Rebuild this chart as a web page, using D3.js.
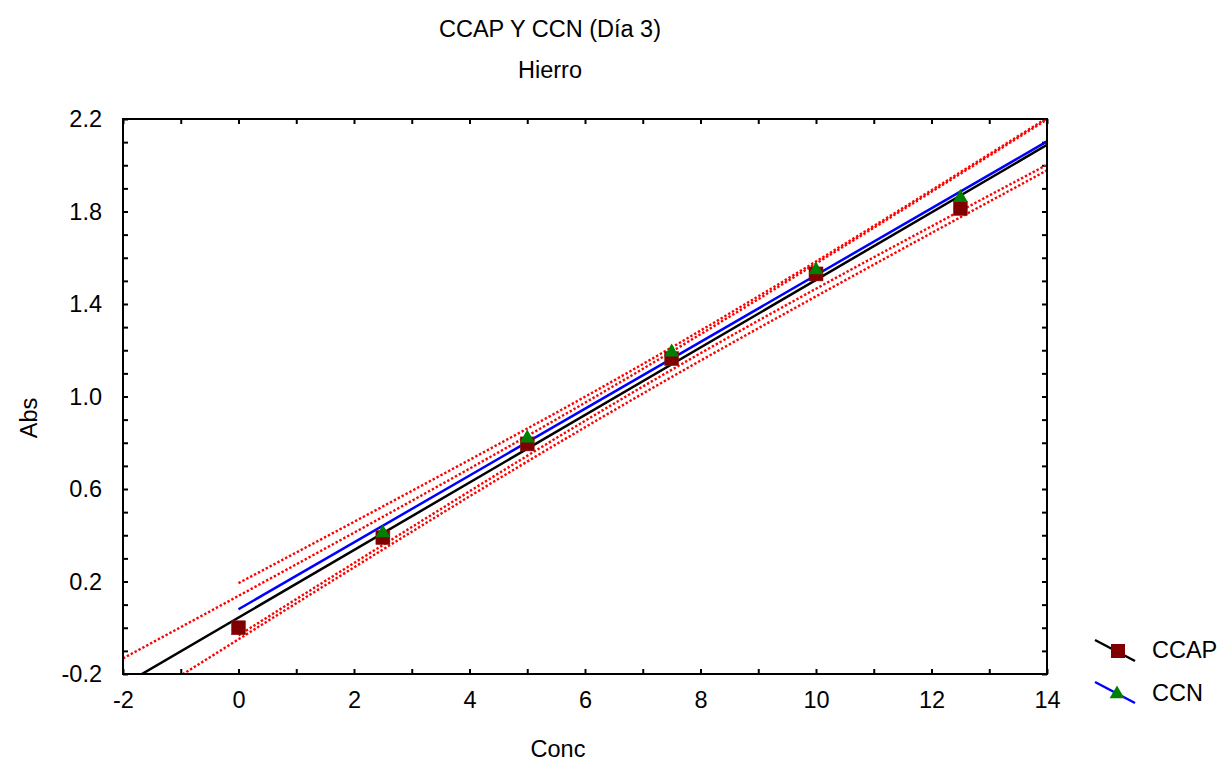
<!DOCTYPE html>
<html><head><meta charset="utf-8">
<script src="https://cdn.jsdelivr.net/npm/d3@7"></script>
<style>body{margin:0;background:#fff}text{font-family:"Liberation Sans",Arial,sans-serif;fill:#000}</style>
</head><body><svg id="c" width="1220" height="765"></svg>
<script>
// ---- data ----
const title = "CCAP Y CCN (Día 3)";
const subtitle = "Hierro";
const xTitle = "Conc", yTitle = "Abs";
const xTickLabels = [-2, 0, 2, 4, 6, 8, 10, 12, 14];
const yTickLabels = [-0.2, 0.2, 0.6, 1.0, 1.4, 1.8, 2.2];
const ccapX = [0, 2.5, 5, 7.5, 10, 12.5];
const ccapY = [0.00, 0.39, 0.795, 1.164, 1.53, 1.813];
const ccnX = [2.5, 5, 7.5, 10, 12.5];
const ccnY = [0.41, 0.82, 1.192, 1.547, 1.86];
// fitted lines (endpoints)
const ccapFitX = [-2, 14], ccapFitY = [-0.248, 2.088];
const ccnFitX = [0, 14], ccnFitY = [0.080, 2.103];
// confidence bands
const ccapBandX = [-2, 0, 2, 4, 6, 8, 10, 12, 14];
const ccapUpper = [-0.1325, 0.138, 0.411, 0.688, 0.973, 1.269, 1.575, 1.885, 2.198];
const ccapLower = [-0.3635, -0.050, 0.261, 0.568, 0.867, 1.155, 1.433, 1.707, 1.978];
const ccnBandX = [0, 2, 4, 6, 8, 10, 12, 14];
const ccnUpper = [0.193, 0.458, 0.726, 0.999, 1.285, 1.584, 1.892, 2.204];
const ccnLower = [-0.033, 0.280, 0.590, 0.895, 1.187, 1.466, 1.736, 2.002];

const FS = 23.5;
const svg = d3.select("#c");
const L = 123, R = 1047, T = 119, B = 674;
const x = d3.scaleLinear().domain([-2, 14]).range([L, R]);
const y = d3.scaleLinear().domain([-0.2, 2.2]).range([B, T]);

svg.append("defs").append("clipPath").attr("id", "clip")
  .append("rect").attr("x", L).attr("y", T).attr("width", R - L).attr("height", B - T);

// titles
svg.append("text").attr("x", 550).attr("y", 37).attr("text-anchor", "middle").attr("font-size", FS).text(title);
svg.append("text").attr("x", 550).attr("y", 78).attr("text-anchor", "middle").attr("font-size", FS).text(subtitle);
svg.append("text").attr("x", 558).attr("y", 757).attr("text-anchor", "middle").attr("font-size", FS).text(xTitle);
svg.append("text").attr("transform", "translate(37,418) rotate(-90)").attr("text-anchor", "middle").attr("font-size", FS).text(yTitle);

// axes with inward ticks
const xMinor = d3.range(-2, 14.001, 1);
const yMinor = d3.range(-0.2, 2.2001, 0.1);
const tickLen = 5;
const ax = svg.append("g");
const bottomAxis = d3.axisBottom(x).tickValues(xMinor).tickSize(-tickLen).tickFormat("");
const topAxis = d3.axisTop(x).tickValues(xMinor).tickSize(-tickLen).tickFormat("");
const leftAxis = d3.axisLeft(y).tickValues(yMinor).tickSize(-tickLen).tickFormat("");
const rightAxis = d3.axisRight(y).tickValues(yMinor).tickSize(-tickLen).tickFormat("");
[[bottomAxis, `translate(0,${B})`], [topAxis, `translate(0,${T})`], [leftAxis, `translate(${L},0)`], [rightAxis, `translate(${R},0)`]]
  .forEach(([a, t]) => {
    const g = ax.append("g").attr("transform", t).call(a);
    g.select(".domain").remove();
    g.selectAll("line").attr("stroke", "#000").attr("stroke-width", 2);
  });
// tick labels (hyphen minus as in the reference)
const hy = f => d => f(d).replace("\u2212", "-");
const xl = d3.axisBottom(x).tickValues(xTickLabels).tickSize(0).tickPadding(17).tickFormat(hy(d3.format("d")));
const gx = svg.append("g").attr("transform", `translate(0,${B})`).call(xl);
gx.select(".domain").remove();
gx.selectAll("text").attr("font-size", FS).attr("font-family", "Liberation Sans, Arial, sans-serif");
const yl = d3.axisLeft(y).tickValues(yTickLabels).tickSize(0).tickPadding(21).tickFormat(hy(d3.format(".1f")));
const gy = svg.append("g").attr("transform", `translate(${L},0)`).call(yl);
gy.select(".domain").remove();
gy.selectAll("text").attr("font-size", FS).attr("font-family", "Liberation Sans, Arial, sans-serif");

// plot content
const plot = svg.append("g").attr("clip-path", "url(#clip)");
const curve = d3.line().x(d => x(d[0])).y(d => y(d[1])).curve(d3.curveNatural);
const straight = d3.line().x(d => x(d[0])).y(d => y(d[1]));
const zip = (a, b) => a.map((v, i) => [v, b[i]]);

[[ccapBandX, ccapUpper], [ccapBandX, ccapLower], [ccnBandX, ccnUpper], [ccnBandX, ccnLower]].forEach(([bx, by]) => {
  plot.append("path").attr("d", curve(zip(bx, by))).attr("fill", "none")
    .attr("stroke", "#ff0000").attr("stroke-width", 2.4).attr("stroke-dasharray", "2.4,2");
});
plot.append("path").attr("d", straight(zip(ccapFitX, ccapFitY))).attr("fill", "none").attr("stroke", "#000").attr("stroke-width", 2.5);
plot.append("path").attr("d", straight(zip(ccnFitX, ccnFitY))).attr("fill", "none").attr("stroke", "#0000ff").attr("stroke-width", 2.5);

const sq = 14;
plot.selectAll(".sq").data(zip(ccapX, ccapY)).enter().append("rect")
  .attr("x", d => x(d[0]) - sq / 2).attr("y", d => y(d[1]) - sq / 2).attr("width", sq).attr("height", sq)
  .attr("fill", "#800000").attr("stroke", "#8a1a1a").attr("stroke-width", 0.5);
const tri = d3.symbol().type(d3.symbolTriangle).size(95);
plot.selectAll(".tri").data(zip(ccnX, ccnY)).enter().append("path")
  .attr("d", tri).attr("transform", d => `translate(${x(d[0])},${y(d[1])})`)
  .attr("fill", "#008000");

// frame
svg.append("rect").attr("x", L).attr("y", T).attr("width", R - L).attr("height", B - T)
  .attr("fill", "none").attr("stroke", "#000").attr("stroke-width", 2);

// legend
const lg = svg.append("g");
lg.append("line").attr("x1", 1095).attr("y1", 640).attr("x2", 1135).attr("y2", 661).attr("stroke", "#000").attr("stroke-width", 2.5);
lg.append("rect").attr("x", 1111).attr("y", 644).attr("width", sq).attr("height", sq).attr("fill", "#800000");
lg.append("text").attr("x", 1152).attr("y", 658).attr("font-size", FS).text("CCAP");
lg.append("line").attr("x1", 1095).attr("y1", 682).attr("x2", 1135).attr("y2", 703).attr("stroke", "#0000ff").attr("stroke-width", 2.5);
lg.append("path").attr("d", tri).attr("transform", "translate(1117,694)").attr("fill", "#008000");
lg.append("text").attr("x", 1152).attr("y", 701).attr("font-size", FS).text("CCN");
</script></body></html>
